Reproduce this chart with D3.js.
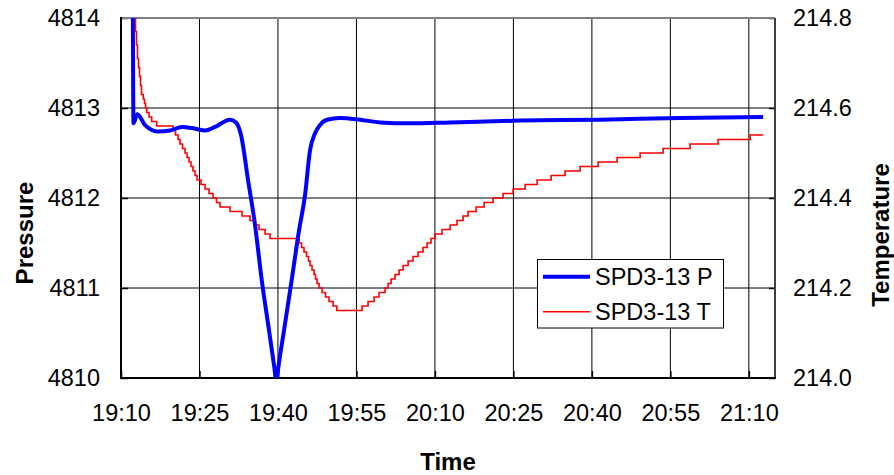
<!DOCTYPE html>
<html><head><meta charset="utf-8">
<script src="https://cdn.jsdelivr.net/npm/d3@7"></script>
<style>
body{margin:0;background:#fff;}
text{font-family:"Liberation Sans",Arial,sans-serif;}
</style></head>
<body><svg id="c" width="894" height="475"></svg>
<script>
// ---- data (minutes after 19:10) ----
const xTickLabels = ["19:10","19:25","19:40","19:55","20:10","20:25","20:40","20:55","21:10"];
const pressureTicks = [4810, 4811, 4812, 4813, 4814];
const temperatureTicks = [214.0, 214.2, 214.4, 214.6, 214.8];
const seriesNames = ["SPD3-13 P", "SPD3-13 T"];

const pressureMinutes = [2.20, 2.39, 3.12, 4.59, 7.07, 9.37, 11.66, 14.15, 16.06, 17.97, 20.84, 21.98, 22.94, 24.28, 25.62, 26.90, 28.29, 29.30, 29.70, 30.10, 31.16, 32.63, 34.03, 35.17, 36.13, 37.09, 38.04, 39.38, 41.85, 45.69, 49.51, 55.25, 62.90, 76.28, 91.57, 106.86, 122.73];
const pressureValues  = [4815.5, 4812.83, 4812.93, 4812.81, 4812.74, 4812.75, 4812.79, 4812.77, 4812.75, 4812.79, 4812.87, 4812.84, 4812.70, 4812.20, 4811.70, 4811.09, 4810.53, 4810.12, 4809.96, 4810.13, 4810.53, 4811.09, 4811.64, 4812.03, 4812.53, 4812.72, 4812.81, 4812.87, 4812.89, 4812.87, 4812.84, 4812.83, 4812.84, 4812.86, 4812.87, 4812.89, 4812.90];

const temperatureMinutes = [2.29, 2.58, 2.77, 2.96, 3.15, 3.35, 3.54, 3.73, 3.92, 4.26, 4.49, 4.70, 4.91, 5.35, 5.87, 6.82,
  9.94, 10.42, 10.90, 11.28, 11.76, 12.23, 12.62, 13.00, 13.38, 13.76, 14.15, 14.53, 15.29, 16.06, 16.82, 17.59, 18.26, 18.93, 20.84, 23.13, 24.66, 25.43, 26.38, 27.53, 28.48,
  34.03, 34.51, 34.98, 35.46, 35.84, 36.13, 36.51, 36.90, 37.18, 37.47, 37.85, 38.43, 39.09, 39.76, 40.53, 41.24,
  46.07, 47.22, 48.37, 49.32, 50.47, 51.04, 51.62, 52.38, 53.15, 53.91, 54.87, 55.82, 56.78, 57.73, 58.50, 59.26, 60.03, 61.37, 62.90, 64.23, 65.38, 66.34, 67.87, 69.40, 71.12, 73.03, 74.94, 77.23, 79.53, 82.21, 84.88, 87.75, 91.19, 94.82, 99.22, 103.61, 108.77, 114.12, 120.24, 122.79];
const temperatureValues = [214.86, 214.80, 214.77, 214.74, 214.71, 214.69, 214.67, 214.65, 214.63, 214.62, 214.61, 214.60, 214.59, 214.58, 214.57, 214.56,
  214.55, 214.54, 214.53, 214.52, 214.51, 214.50, 214.49, 214.48, 214.47, 214.46, 214.45, 214.44, 214.43, 214.42, 214.41, 214.40, 214.39, 214.38, 214.37, 214.36, 214.35, 214.34, 214.33, 214.32, 214.31,
  214.30, 214.29, 214.28, 214.27, 214.26, 214.25, 214.24, 214.23, 214.22, 214.21, 214.20, 214.19, 214.18, 214.17, 214.16, 214.15,
  214.16, 214.17, 214.18, 214.19, 214.20, 214.21, 214.22, 214.23, 214.24, 214.25, 214.26, 214.27, 214.28, 214.29, 214.30, 214.31, 214.32, 214.33, 214.34, 214.35, 214.36, 214.37, 214.38, 214.39, 214.40, 214.41, 214.42, 214.43, 214.44, 214.45, 214.46, 214.47, 214.48, 214.49, 214.50, 214.51, 214.52, 214.53, 214.54, 214.54];

// ---- layout ----
const W = 894, H = 475;
const m = {left:121, right:119, top:18, bottom:97};
const svg = d3.select("#c");
const base = new Date(2000,0,1,19,10,0);
const toDate = mins => new Date(base.getTime() + mins*60000);
const parseHM = s => { const [h,mm] = s.split(":").map(Number); return new Date(2000,0,1,h,mm,0); };

const x = d3.scaleTime().domain([base, new Date(2000,0,1,21,15,0)]).range([m.left, W - m.right]);
const yP = d3.scaleLinear().domain([4810, 4814]).range([H - m.bottom, m.top]);
const yT = d3.scaleLinear().domain([214.0, 214.8]).range([H - m.bottom, m.top]);

const x0 = m.left, x1 = W - m.right, y0 = m.top, y1 = H - m.bottom;
const fs = 23.5;

// gridlines
const xTickDates = xTickLabels.map(parseHM);
svg.append("g").selectAll("line").data(xTickDates.slice(1)).join("line")
  .attr("x1", d => x(d)).attr("x2", d => x(d)).attr("y1", y0).attr("y2", y1)
  .attr("stroke", "#000").attr("stroke-width", 1);
svg.append("g").selectAll("line").data(pressureTicks.slice(1, -1)).join("line")
  .attr("x1", x0).attr("x2", x1).attr("y1", d => yP(d)).attr("y2", d => yP(d))
  .attr("stroke", "#000").attr("stroke-width", 1);

// axes
const fmtTime = d3.timeFormat("%H:%M");
const gx = svg.append("g").attr("transform", `translate(0,${y1})`)
  .call(d3.axisBottom(x).tickValues(xTickDates).tickFormat(fmtTime).tickSizeInner(-7).tickSizeOuter(0).tickPadding(26));
const gl = svg.append("g").attr("transform", `translate(${x0},0)`)
  .call(d3.axisLeft(yP).tickValues(pressureTicks).tickFormat(d3.format("d")).tickSizeInner(-7).tickSizeOuter(0).tickPadding(21));
const gr = svg.append("g").attr("transform", `translate(${x1},0)`)
  .call(d3.axisRight(yT).tickValues(temperatureTicks).tickFormat(d3.format(".1f")).tickSizeInner(-6).tickSizeOuter(0).tickPadding(18));
[gx, gl, gr].forEach(g => {
  g.select(".domain").remove();
  g.selectAll(".tick line").attr("stroke", "#000").attr("stroke-width", 1.5);
  g.selectAll(".tick text").attr("font-size", fs).attr("fill", "#000")
    .attr("font-family", '"Liberation Sans",Arial,sans-serif');
});

// frame
svg.append("line").attr("x1", x0).attr("x2", x1).attr("y1", y0).attr("y2", y0).attr("stroke", "#808080").attr("stroke-width", 2);
svg.append("line").attr("x1", x1).attr("x2", x1).attr("y1", y0).attr("y2", y1).attr("stroke", "#404040").attr("stroke-width", 2);
svg.append("line").attr("x1", x0).attr("x2", x0).attr("y1", y0 - 1).attr("y2", y1).attr("stroke", "#000").attr("stroke-width", 2);
svg.append("line").attr("x1", x0 - 1).attr("x2", x1 + 1).attr("y1", y1).attr("y2", y1).attr("stroke", "#000").attr("stroke-width", 2);

// clip
svg.append("clipPath").attr("id", "plot").append("rect")
  .attr("x", x0).attr("y", y0).attr("width", x1 - x0).attr("height", y1 - y0);

const pData = pressureMinutes.map((t, i) => ({t: toDate(t), v: pressureValues[i]}));
const tData = temperatureMinutes.map((t, i) => ({t: toDate(t), v: temperatureValues[i]}));

svg.append("path").datum(tData).attr("clip-path", "url(#plot)")
  .attr("fill", "none").attr("stroke", "#ff0000").attr("stroke-width", 1.6)
  .attr("d", d3.line().x(d => x(d.t)).y(d => yT(d.v)).curve(d3.curveStepAfter));
svg.append("path").datum(pData).attr("clip-path", "url(#plot)")
  .attr("fill", "none").attr("stroke", "#0000ff").attr("stroke-width", 4).attr("stroke-linejoin", "round")
  .attr("d", d3.line().x(d => x(d.t)).y(d => yP(d.v)).curve(d3.curveMonotoneX));

// axis titles
svg.append("text").attr("transform", "translate(33,233) rotate(-90)").attr("text-anchor", "middle")
  .attr("font-size", 24).attr("font-weight", "bold").text("Pressure");
svg.append("text").attr("transform", "translate(889,235) rotate(-90)").attr("text-anchor", "middle")
  .attr("font-size", 24).attr("font-weight", "bold").text("Temperature");
svg.append("text").attr("x", 448).attr("y", 470).attr("text-anchor", "middle")
  .attr("font-size", 24).attr("font-weight", "bold").text("Time");

// legend
const lg = svg.append("g");
lg.append("rect").attr("x", 537.5).attr("y", 259.5).attr("width", 186).attr("height", 68.5)
  .attr("fill", "#fff").attr("stroke", "#000").attr("stroke-width", 1);
const legendColors = ["#0000ff", "#ff0000"], legendWidths = [4, 1.6];
seriesNames.forEach((name, i) => {
  const yy = 276.7 + i * 35;
  lg.append("line").attr("x1", 543).attr("x2", 590).attr("y1", yy).attr("y2", yy)
    .attr("stroke", legendColors[i]).attr("stroke-width", legendWidths[i]);
  lg.append("text").attr("x", 595).attr("y", yy + 8.4).attr("font-size", fs).text(name);
});
</script></body></html>
